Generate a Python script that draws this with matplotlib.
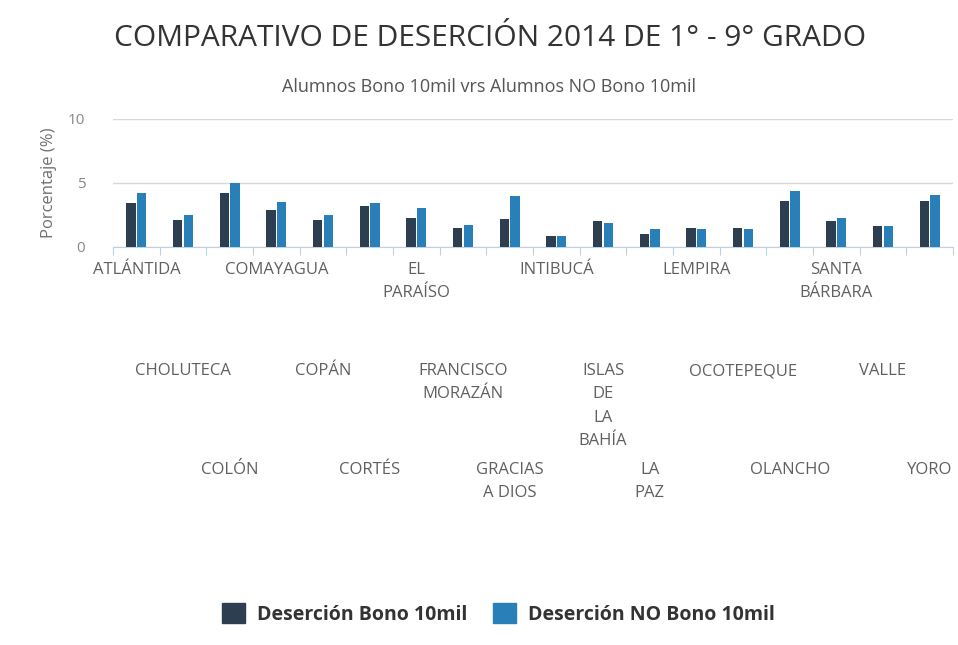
import numpy as np
import matplotlib
matplotlib.use("Agg")
import matplotlib.pyplot as plt
from matplotlib.transforms import blended_transform_factory
from matplotlib.patches import Patch

plt.rcParams['font.family'] = ['Open Sans', 'DejaVu Sans']

departamentos = ['ATLÁNTIDA', 'CHOLUTECA', 'COLÓN', 'COMAYAGUA', 'COPÁN', 'CORTÉS',
                 'EL\nPARAÍSO', 'FRANCISCO\nMORAZÁN', 'GRACIAS\nA DIOS', 'INTIBUCÁ',
                 'ISLAS\nDE\nLA\nBAHÍA', 'LA\nPAZ', 'LEMPIRA', 'OCOTEPEQUE', 'OLANCHO',
                 'SANTA\nBÁRBARA', 'VALLE', 'YORO']
bono = [3.4, 2.1, 4.2, 2.9, 2.1, 3.2, 2.3, 1.5, 2.2, 0.85, 2.05, 1.0, 1.5, 1.5, 3.6, 2.05, 1.65, 3.6]
no_bono = [4.2, 2.5, 5.0, 3.55, 2.5, 3.4, 3.05, 1.75, 4.0, 0.85, 1.9, 1.4, 1.4, 1.4, 4.35, 2.25, 1.65, 4.1]

c_bono = '#2c3e50'
c_nobono = '#2980b9'
grey = '#606060'

fig = plt.figure(figsize=(9.58, 6.45), dpi=100)
ax = fig.add_axes([113/958, 1 - 247/645, 840/958, 128/645])

x = np.arange(len(departamentos))
w = 0.2
ax.bar(x - 0.115, bono, width=w, color=c_bono, zorder=3)
ax.bar(x + 0.115, no_bono, width=w, color=c_nobono, zorder=3)

ax.set_xlim(-0.5, len(departamentos) - 0.5)
ax.set_ylim(0, 10)
ax.set_yticks([0, 5, 10])
ax.yaxis.grid(True, color='#d8d8d8', linewidth=1, zorder=0)
ax.tick_params(axis='y', length=0, labelsize=11, labelcolor='#888888', pad=20)
for s in ['top', 'right', 'left']:
    ax.spines[s].set_visible(False)
ax.spines['bottom'].set_color('#c0d0e0')

ax.set_xticks(np.arange(len(departamentos) + 1) - 0.5)
ax.set_xticklabels([])
ax.tick_params(axis='x', length=6, color='#c0d0e0', direction='out')

ax.set_ylabel('Porcentaje (%)', fontsize=12, color='#707070', labelpad=8)

# etiquetas escalonadas en tres filas
tr = blended_transform_factory(ax.transData, fig.transFigure)
filas = [1 - 262/645, 1 - 363/645, 1 - 462/645]
for i, nombre in enumerate(departamentos):
    ax.text(i, filas[i % 3], nombre, transform=tr, ha='center', va='top',
            fontsize=12, color=grey, linespacing=1.62)

fig.text(0.512, 1 - 38/645, 'COMPARATIVO DE DESERCIÓN 2014 DE 1° - 9° GRADO',
         ha='center', va='center', fontsize=21.5, color='#333333')
fig.text(0.51, 1 - 87/645, 'Alumnos Bono 10mil vrs Alumnos NO Bono 10mil',
         ha='center', va='center', fontsize=13, color='#555555')

handles = [Patch(color=c_bono, label='Deserción Bono 10mil'),
           Patch(color=c_nobono, label='Deserción NO Bono 10mil')]
fig.legend(handles=handles, loc='center', bbox_to_anchor=(0.52, 1 - 614/645), ncol=2,
           frameon=False, prop={'weight': 'bold', 'size': 14}, handlelength=1.2,
           handleheight=1.2, columnspacing=1.3, handletextpad=0.6, labelcolor='#333333')

fig.savefig('out.png', dpi=100)
